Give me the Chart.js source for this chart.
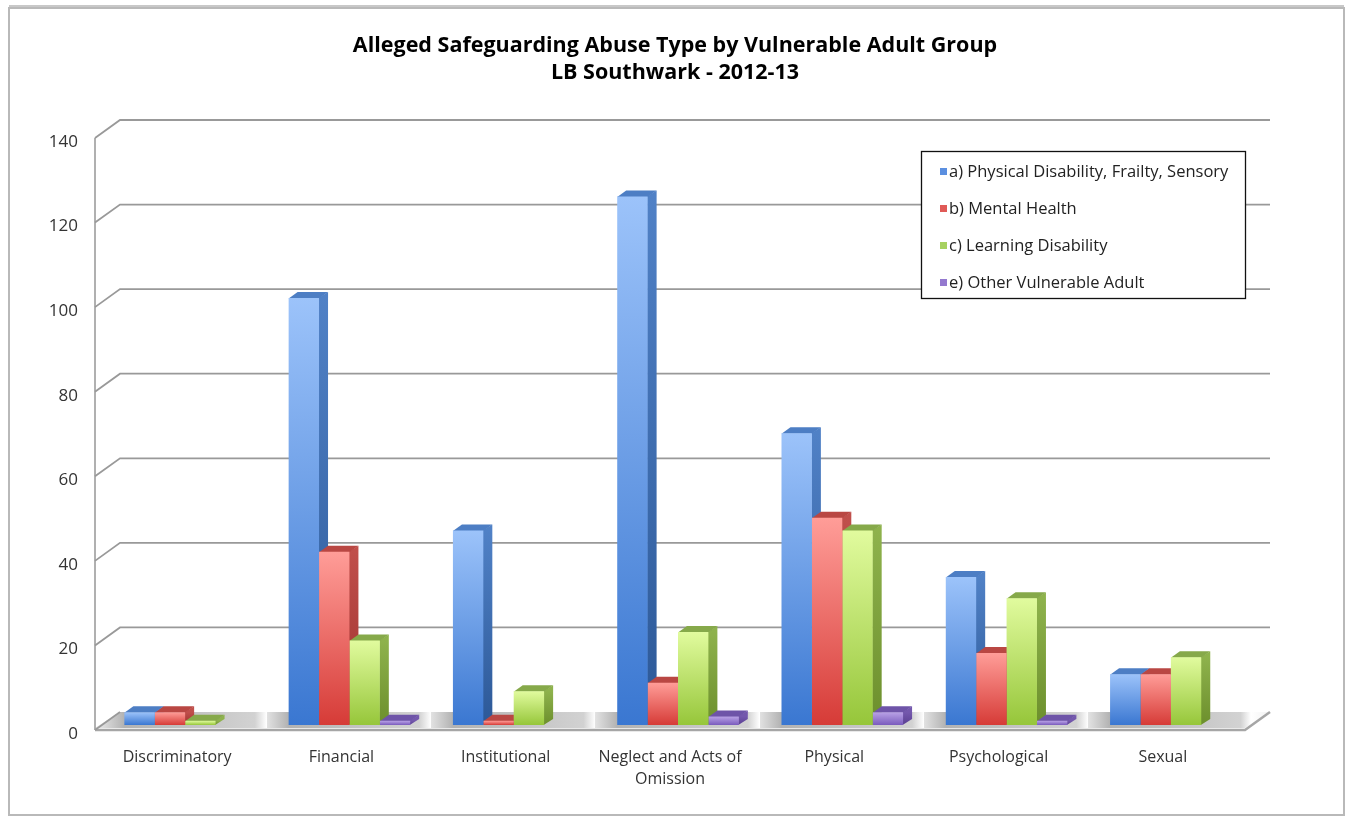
<!DOCTYPE html>
<html>
<head>
<meta charset="utf-8">
<title>Alleged Safeguarding Abuse Type by Vulnerable Adult Group</title>
<script src="https://cdn.jsdelivr.net/npm/chart.js@4.4.0/dist/chart.umd.min.js"></script>
<style>
  html, body { margin: 0; padding: 0; background: #fff; }
  canvas { display: block; }
</style>
</head>
<body>
<canvas id="chart" width="1350" height="823"></canvas>
<script>
// abuse types along the x axis
const categories = [
  'Discriminatory',
  'Financial',
  'Institutional',
  ['Neglect and Acts of', 'Omission'],
  'Physical',
  'Psychological',
  'Sexual',
];

const seriesLabels = [
  'a) Physical Disability, Frailty, Sensory',
  'b) Mental Health',
  'c) Learning Disability',
  'e) Other Vulnerable Adult',
];

// alerts per group, same order as categories
const physicalFrailtySensory = [3, 101, 46, 125, 69, 35, 12];
const mentalHealth = [3, 41, 1, 10, 49, 17, 12];
const learningDisability = [1, 20, 8, 22, 46, 30, 16];
const otherVulnerableAdult = [0, 1, 0, 2, 3, 1, 0];

const yMin = 0;
const yMax = 140;
const yStep = 20;

const FONT = '"Open Sans", "DejaVu Sans", sans-serif';

// pseudo-3D offsets, relative to the plane the bar fronts sit on
const FRONT = { dx: -8, dy: 5 };
const BACK = { dx: 17, dy: -13 };
const BAR_DEPTH = { dx: 9, dy: -6 };

const palette = [
  { light: '#9cc3fa', dark: '#3a77d1', side: ['#5081c6', '#2c5897'], top: '#4d7ec4', key: '#5b8fe0' },
  { light: '#ff9d98', dark: '#d63b37', side: ['#c04f4b', '#9c2f2c'], top: '#b94743', key: '#e05a57' },
  { light: '#e1fb9e', dark: '#96c63a', side: ['#8eb24c', '#6c8f2c'], top: '#86a94a', key: '#a7d160' },
  { light: '#b9a2e6', dark: '#7a5bbd', side: ['#7458ad', '#5a3f92'], top: '#6e54a8', key: '#9479cf' },
];

function frontFill(c, k) {
  const p = palette[k];
  const ys = c.chart.scales.y;
  if (!ys || c.raw == null) return p.dark;
  const top = ys.getPixelForValue(c.raw);
  const base = ys.getPixelForValue(0);
  if (!isFinite(top) || !isFinite(base) || base - top < 1) return p.dark;
  const g = c.chart.ctx.createLinearGradient(0, top, 0, base);
  g.addColorStop(0, p.light);
  g.addColorStop(1, p.dark);
  return g;
}

function makeDataset(label, data, k) {
  return {
    label,
    data,
    backgroundColor: c => frontFill(c, k),
    borderWidth: 0,
    barPercentage: 1,
    categoryPercentage: 0.74,
  };
}

// walls, floor and the side/top faces of every bar
const box3d = {
  id: 'box3d',
  beforeDraw(chart) {
    const { ctx, width, height } = chart;
    ctx.save();
    ctx.fillStyle = '#fff';
    ctx.fillRect(0, 0, width, height);
    ctx.strokeStyle = '#b9b9b9';
    ctx.lineWidth = 2;
    ctx.strokeRect(9, 8, width - 15, height - 16);
    ctx.strokeStyle = '#c8c8c8';
    ctx.beginPath();
    ctx.moveTo(9, 6);
    ctx.lineTo(width - 6, 6);
    ctx.stroke();
    ctx.restore();
  },
  beforeDatasetsDraw(chart) {
    const { ctx, chartArea: a, scales: { x, y } } = chart;
    const fl = a.left + FRONT.dx, fr = a.right + FRONT.dx;
    const bl = a.left + BACK.dx, br = a.right + BACK.dx;
    const yf = v => y.getPixelForValue(v) + FRONT.dy;
    const yb = v => y.getPixelForValue(v) + BACK.dy;

    ctx.save();

    // floor: shaded slab between the front edge and the back wall
    const step = x.getPixelForValue(1) - x.getPixelForValue(0);
    const groupHalf = step * 0.74 / 2;
    const g = ctx.createLinearGradient(fl, 0, br, 0);
    const span = br - fl;
    let last = 0;
    const stop = (px, col) => {
      const t = Math.min(1, Math.max(last, (px - fl) / span));
      last = t;
      g.addColorStop(t, col);
    };
    stop(fl, '#d6d6d6');
    categories.forEach((_, i) => {
      const c = x.getPixelForValue(i);
      const s = c - groupHalf, e = c + groupHalf + BAR_DEPTH.dx;
      const next = i < categories.length - 1 ? x.getPixelForValue(i + 1) - groupHalf : br;
      stop(s - 24, '#e2e2e2');
      stop(s, '#b2b2b2');
      stop(e, '#d2d2d2');
      stop(e + (next - e) * 0.35, '#ffffff');
    });
    stop(br, '#f2f2f2');
    ctx.fillStyle = g;
    ctx.beginPath();
    ctx.moveTo(fl, yf(0) - 2);
    ctx.lineTo(fr, yf(0) - 2);
    ctx.lineTo(br, yb(0));
    ctx.lineTo(bl, yb(0));
    ctx.closePath();
    ctx.fill();

    ctx.strokeStyle = '#a6a6a6';
    ctx.lineWidth = 2.5;
    ctx.beginPath();
    ctx.moveTo(fl, yf(0));
    ctx.lineTo(fr, yf(0));
    ctx.lineTo(br, yb(0));
    ctx.stroke();

    // left wall edge
    ctx.lineWidth = 1.8;
    ctx.strokeStyle = '#a8a8a8';
    ctx.beginPath();
    ctx.moveTo(fl, yf(yMax));
    ctx.lineTo(fl, yf(0));
    ctx.stroke();

    // gridlines on the back wall with their stubs on the left wall
    ctx.strokeStyle = '#999';
    ctx.lineWidth = 1.8;
    y.ticks.forEach(t => {
      ctx.beginPath();
      ctx.moveTo(fl, yf(t.value));
      ctx.lineTo(bl, yb(t.value));
      if (t.value !== 0) ctx.lineTo(br, yb(t.value));
      ctx.stroke();
    });

    // side and top faces; fronts are drawn afterwards by the bar elements
    chart.data.datasets.forEach((ds, di) => {
      const p = palette[di];
      chart.getDatasetMeta(di).data.forEach((bar, i) => {
        if (!ds.data[i]) return;
        const { x: cx, y: top, base, width } = bar.getProps(['x', 'y', 'base', 'width'], true);
        if (![cx, top, base, width].every(isFinite)) return;
        const l = cx - width / 2, r = cx + width / 2;
        const sg = ctx.createLinearGradient(0, top, 0, base);
        sg.addColorStop(0, p.side[0]);
        sg.addColorStop(1, p.side[1]);
        ctx.fillStyle = sg;
        ctx.beginPath();
        ctx.moveTo(r - 0.5, top);
        ctx.lineTo(r + BAR_DEPTH.dx, top + BAR_DEPTH.dy);
        ctx.lineTo(r + BAR_DEPTH.dx, base + BAR_DEPTH.dy);
        ctx.lineTo(r - 0.5, base);
        ctx.closePath();
        ctx.fill();

        ctx.fillStyle = p.top;
        ctx.beginPath();
        ctx.moveTo(l, top + 0.5);
        ctx.lineTo(l + BAR_DEPTH.dx, top + BAR_DEPTH.dy);
        ctx.lineTo(r + BAR_DEPTH.dx, top + BAR_DEPTH.dy);
        ctx.lineTo(r, top + 0.5);
        ctx.closePath();
        ctx.fill();
      });
    });
    ctx.restore();
  },
};

// boxed key in the upper right of the plot
const keyBox = {
  id: 'keyBox',
  afterDraw(chart, args, opts) {
    const { ctx } = chart;
    const { left, top, width, height, rowGap } = opts;
    ctx.save();
    ctx.fillStyle = '#fff';
    ctx.fillRect(left, top, width, height);
    ctx.strokeStyle = '#111';
    ctx.lineWidth = 1.3;
    ctx.strokeRect(left + 0.5, top + 0.5, width, height);
    ctx.font = '16.5px ' + FONT;
    ctx.textBaseline = 'middle';
    ctx.textAlign = 'left';
    chart.data.datasets.forEach((ds, i) => {
      const cy = top + 21 + i * rowGap;
      ctx.fillStyle = palette[i].key;
      ctx.fillRect(left + 19, cy - 4, 7, 7);
      ctx.fillStyle = '#222';
      ctx.fillText(ds.label, left + 28, cy);
    });
    ctx.restore();
  },
};

new Chart(document.getElementById('chart'), {
  type: 'bar',
  data: {
    labels: categories,
    datasets: [
      makeDataset(seriesLabels[0], physicalFrailtySensory, 0),
      makeDataset(seriesLabels[1], mentalHealth, 1),
      makeDataset(seriesLabels[2], learningDisability, 2),
      makeDataset(seriesLabels[3], otherVulnerableAdult, 3),
    ],
  },
  options: {
    responsive: false,
    animation: false,
    layout: { padding: 0 },
    plugins: {
      legend: { display: false },
      tooltip: { enabled: false },
      title: {
        display: true,
        text: ['Alleged Safeguarding Abuse Type by Vulnerable Adult Group', 'LB Southwark - 2012-13'],
        color: '#000',
        font: { family: FONT, size: 21.5, weight: 'bold', lineHeight: '27px' },
        padding: { top: 32.5, bottom: 46.5 },
      },
      keyBox: { left: 921, top: 151, width: 324, height: 147, rowGap: 37 },
    },
    scales: {
      x: {
        grid: { display: false, drawTicks: false },
        border: { display: false },
        ticks: {
          color: '#333',
          font: { family: FONT, size: 16, lineHeight: '22px' },
          padding: 21,
          labelOffset: FRONT.dx,
          maxRotation: 0,
          autoSkip: false,
        },
        afterFit: s => { s.height = 98; },
      },
      y: {
        min: yMin,
        max: yMax,
        grid: { display: false, drawTicks: false },
        border: { display: false },
        ticks: {
          stepSize: yStep,
          color: '#333',
          font: { family: FONT, size: 17 },
          padding: 25,
          labelOffset: 9,
        },
        afterFit: s => { s.width = 103; },
      },
      // empty right-hand margin that leaves room for the back wall
      margin: {
        type: 'linear',
        position: 'right',
        grid: { display: false, drawTicks: false },
        border: { display: false },
        ticks: { display: false },
        afterFit: s => { s.width = 97; },
      },
    },
  },
  plugins: [box3d, keyBox],
});
</script>
</body>
</html>
